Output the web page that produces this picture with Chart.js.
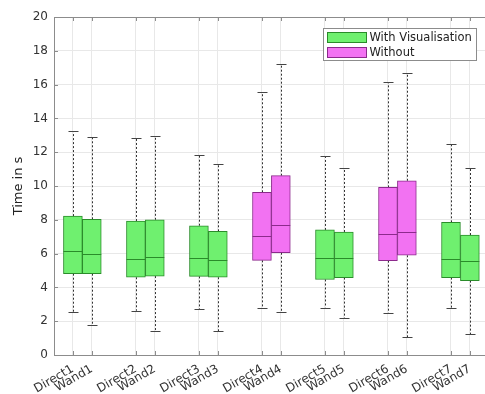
<!DOCTYPE html>
<html>
<head>
<meta charset="utf-8">
<script src="https://cdn.jsdelivr.net/npm/chart.js@4.4.1/dist/chart.umd.min.js"></script>
<style>
    html, body { margin: 0; padding: 0; background: #fff; }
    #wrap { width: 485px; height: 394px; }
</style>
</head>
<body>
<div id="wrap"><canvas id="boxChart"></canvas></div>
<script>
// box plot data, one entry per box
const categories = ['Direct1', 'Wand1', 'Direct2', 'Wand2', 'Direct3', 'Wand3', 'Direct4',
    'Wand4', 'Direct5', 'Wand5', 'Direct6', 'Wand6', 'Direct7', 'Wand7'];
const positions = [1, 1.3, 2, 2.3, 3, 3.3, 4, 4.3, 5, 5.3, 6, 6.3, 7, 7.3];
const whiskerLow = [2.54, 1.78, 2.62, 1.40, 2.72, 1.42, 2.80, 2.54, 2.80, 2.19, 2.49, 1.05, 2.80, 1.22];
const q1 = [4.81, 4.81, 4.60, 4.67, 4.65, 4.60, 5.60, 6.05, 4.47, 4.58, 5.58, 5.90, 4.58, 4.40];
const median = [6.15, 5.98, 5.70, 5.82, 5.72, 5.60, 7.02, 7.71, 5.72, 5.72, 7.14, 7.26, 5.70, 5.58];
const q3 = [8.22, 8.03, 7.93, 8.00, 7.65, 7.32, 9.63, 10.61, 7.40, 7.28, 9.92, 10.31, 7.85, 7.10];
const whiskerHigh = [13.24, 12.90, 12.84, 12.96, 11.82, 11.28, 15.54, 17.22, 11.75, 11.05, 16.15, 16.69, 12.49, 11.08];
// true = "With Visualisation", false = "Without"
const withVis = [true, true, true, true, true, true, false, false, true, true, false, false, true, true];
const yTicks = [0, 2, 4, 6, 8, 10, 12, 14, 16, 18, 20];

const FONT = 'DejaVu Sans';

function boxes(flag) {
    return categories
        .map((c, i) => ({ x: positions[i], y: [q1[i], q3[i]], i: i }))
        .filter(d => withVis[d.i] === flag);
}

// whiskers behind the boxes, medians on top, plus frame and legend
const boxPlot = {
    id: 'boxPlot',
    beforeDatasetsDraw(chart) {
        const ctx = chart.ctx;
        const y = chart.scales.y;
        ctx.save();
        chart.data.datasets.forEach((ds, d) => {
            chart.getDatasetMeta(d).data.forEach((bar, j) => {
                const i = ds.data[j].i;
                const x = Math.round(bar.x) + 0.5;
                ctx.strokeStyle = '#333';
                ctx.lineWidth = 1;
                ctx.setLineDash([2, 2]);
                ctx.beginPath();
                ctx.moveTo(x, y.getPixelForValue(q3[i]));
                ctx.lineTo(x, y.getPixelForValue(whiskerHigh[i]));
                ctx.moveTo(x, y.getPixelForValue(q1[i]));
                ctx.lineTo(x, y.getPixelForValue(whiskerLow[i]));
                ctx.stroke();
                ctx.setLineDash([]);
                ctx.strokeStyle = '#444';
                ctx.beginPath();
                [whiskerHigh[i], whiskerLow[i]].forEach(v => {
                    const py = Math.round(y.getPixelForValue(v)) + 0.5;
                    ctx.moveTo(x - 5, py);
                    ctx.lineTo(x + 5, py);
                });
                ctx.stroke();
            });
        });
        ctx.restore();
    },
    afterDatasetsDraw(chart) {
        const ctx = chart.ctx;
        const y = chart.scales.y;
        ctx.save();
        chart.data.datasets.forEach((ds, d) => {
            chart.getDatasetMeta(d).data.forEach((bar, j) => {
                const i = ds.data[j].i;
                const py = Math.round(y.getPixelForValue(median[i])) + 0.5;
                ctx.strokeStyle = ds.borderColor;
                ctx.lineWidth = 1;
                ctx.beginPath();
                ctx.moveTo(bar.x - bar.width / 2, py);
                ctx.lineTo(bar.x + bar.width / 2, py);
                ctx.stroke();
            });
        });
        ctx.restore();
    },
    afterDraw(chart) {
        const ctx = chart.ctx;
        const area = chart.chartArea;
        const xs = chart.scales.x;
        const ys = chart.scales.y;
        ctx.save();
        ctx.strokeStyle = '#8c8c8c';
        ctx.lineWidth = 1;
        ctx.beginPath();
        ctx.moveTo(area.left, area.top + 0.5);
        ctx.lineTo(area.right, area.top + 0.5);
        // small inward ticks
        xs.ticks.forEach(t => {
            const px = Math.round(xs.getPixelForValue(t.value)) + 0.5;
            ctx.moveTo(px, area.top);
            ctx.lineTo(px, area.top + 4);
            ctx.moveTo(px, area.bottom);
            ctx.lineTo(px, area.bottom - 4);
        });
        ys.ticks.forEach(t => {
            const py = Math.round(ys.getPixelForValue(t.value)) + 0.5;
            ctx.moveTo(area.left, py);
            ctx.lineTo(area.left + 4, py);
        });
        ctx.stroke();

        // legend box
        const w = 153, h = 32;
        const lx = area.right - 9 - w + 0.5;
        const ly = area.top + 11 + 0.5;
        ctx.fillStyle = '#fff';
        ctx.fillRect(lx, ly, w, h);
        ctx.strokeStyle = '#8c8c8c';
        ctx.strokeRect(lx, ly, w, h);
        ctx.font = '11.5px "' + FONT + '"';
        ctx.textBaseline = 'middle';
        chart.data.datasets.forEach((ds, d) => {
            const sy = ly + 4 + d * 15;
            ctx.fillStyle = ds.backgroundColor;
            ctx.fillRect(lx + 4, sy, 39, 10);
            ctx.strokeStyle = ds.borderColor;
            ctx.strokeRect(lx + 4, sy, 39, 10);
            ctx.fillStyle = '#222';
            ctx.fillText(ds.label, lx + 46, sy + 5.5);
        });
        ctx.restore();
    }
};

const ctxBox = document.getElementById('boxChart');

new Chart(ctxBox, {
    type: 'bar',
    data: {
        datasets: [
            {
                label: 'With Visualisation',
                data: boxes(true),
                backgroundColor: '#6ff06f',
                borderColor: '#2a8c2a',
                borderWidth: 1,
                borderSkipped: false
            },
            {
                label: 'Without',
                data: boxes(false),
                backgroundColor: '#f272f2',
                borderColor: '#8c2a8c',
                borderWidth: 1,
                borderSkipped: false
            }
        ]
    },
    options: {
        responsive: true,
        maintainAspectRatio: false,
        animation: false,
        events: [],
        grouped: false,
        barPercentage: 1,
        categoryPercentage: 1,
        layout: {
            padding: { top: 17, right: 0, left: 0, bottom: 0 }
        },
        plugins: {
            legend: { display: false },
            tooltip: { enabled: false }
        },
        scales: {
            x: {
                type: 'linear',
                min: 0.7,
                max: 7.54,
                offset: false,
                afterBuildTicks(scale) {
                    scale.ticks = positions.map(v => ({ value: v }));
                },
                afterFit(scale) {
                    scale.height = 39;
                },
                grid: {
                    offset: false,
                    color: '#e8e8e8',
                    drawTicks: false
                },
                border: { color: '#8c8c8c' },
                ticks: {
                    autoSkip: false,
                    maxRotation: 30,
                    minRotation: 30,
                    padding: 7,
                    color: '#333',
                    font: { family: FONT, size: 12 },
                    callback: (value, index) => categories[index]
                }
            },
            y: {
                min: 0,
                max: 20,
                afterBuildTicks(scale) {
                    scale.ticks = yTicks.map(v => ({ value: v }));
                },
                afterFit(scale) {
                    scale.width = 54;
                },
                grid: {
                    color: '#e8e8e8',
                    drawTicks: false
                },
                border: { color: '#8c8c8c' },
                ticks: {
                    padding: 6,
                    color: '#333',
                    font: { family: FONT, size: 12 }
                },
                title: {
                    display: true,
                    text: 'Time in s',
                    color: '#222',
                    padding: { top: 11, bottom: 0 },
                    font: { family: FONT, size: 13 }
                }
            }
        }
    },
    plugins: [boxPlot]
});
</script>
</body>
</html>
